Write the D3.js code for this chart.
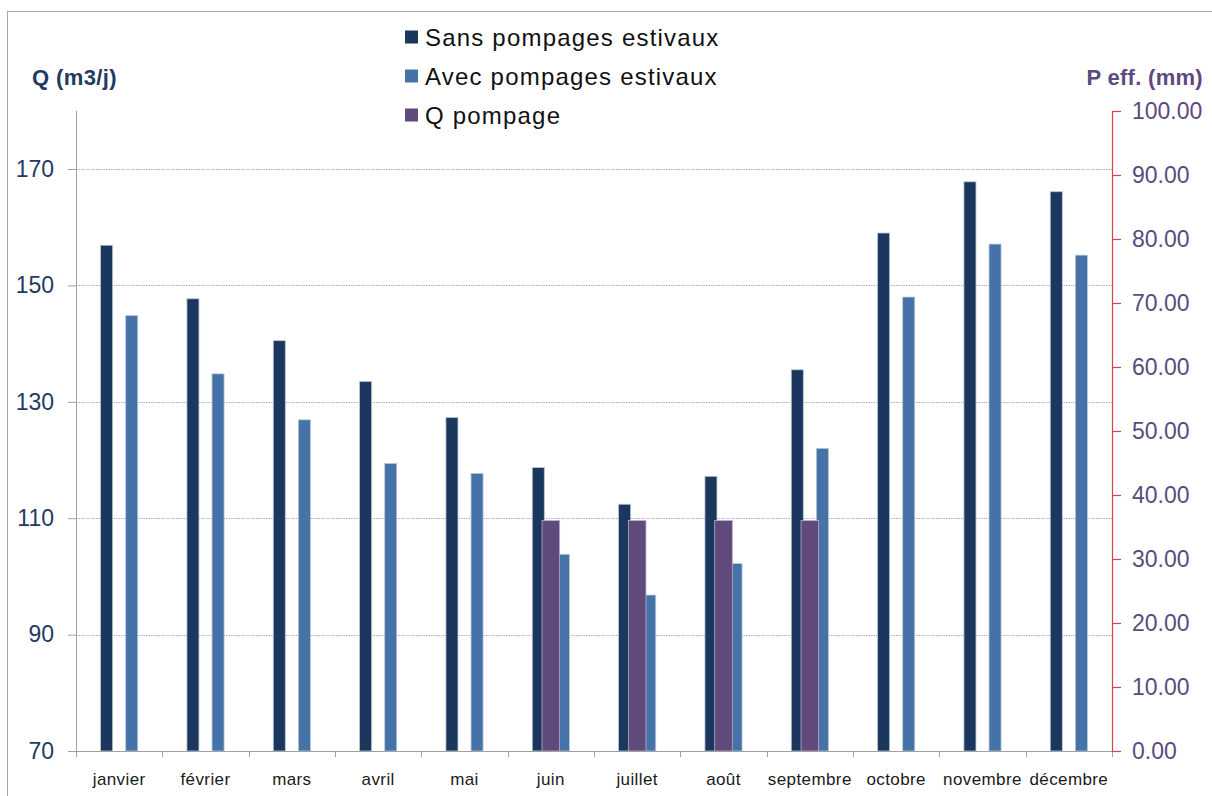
<!DOCTYPE html>
<html>
<head>
<meta charset="utf-8">
<script src="https://cdn.jsdelivr.net/npm/d3@7"></script>
<style>
  html, body { margin: 0; padding: 0; background: #fff; }
  svg { display: block; font-family: "Liberation Sans", Arial, sans-serif; }
</style>
</head>
<body>
<svg id="chart" width="1212" height="796"></svg>
<script>
// ---- data ----
const months = ["janvier","février","mars","avril","mai","juin","juillet","août","septembre","octobre","novembre","décembre"];
const sansPompages = [156.9, 147.7, 140.5, 133.5, 127.3, 118.7, 112.4, 117.2, 135.5, 159.0, 167.8, 166.1];
const avecPompages = [144.8, 134.8, 126.9, 119.4, 117.7, 103.8, 96.8, 102.2, 122.0, 148.0, 157.1, 155.2];
const qPompage     = [null, null, null, null, null, 36, 36, 36, 36, null, null, null];
const leftTicks  = [70, 90, 110, 130, 150, 170];
const rightTicks = [0, 10, 20, 30, 40, 50, 60, 70, 80, 90, 100];
const seriesNames = ["Sans pompages estivaux", "Avec pompages estivaux", "Q pompage"];
const seriesColors = ["#1b375e", "#4673a7", "#604a7b"];

// ---- layout ----
const svg = d3.select("#chart");
const L = 76, R = 1112, T = 110.8, B = 751;

const x = d3.scaleBand().domain(months).range([L, R]).padding(0);
const inner = d3.scaleBand().domain(["sans", "avec"]).range([0, x.bandwidth()])
  .paddingInner(0.52).paddingOuter(0.98);
const y = d3.scaleLinear().domain([70, 180]).range([B, T]);
const y2 = d3.scaleLinear().domain([0, 100]).range([B, 111]);

// outer frame
svg.append("rect").attr("x", 7.5).attr("y", 11.5).attr("width", 1210).attr("height", 800)
  .attr("fill", "none").attr("stroke", "#a6a6a6").attr("stroke-width", 1);

// gridlines
svg.append("g").selectAll("line").data(leftTicks.filter(d => d > 70)).join("line")
  .attr("x1", L).attr("x2", R)
  .attr("y1", d => Math.round(y(d)) + 0.5).attr("y2", d => Math.round(y(d)) + 0.5)
  .attr("stroke", "#b0b0b0").attr("stroke-width", 1).attr("stroke-dasharray", "1.5,1");

// primary bars
const rows = months.map((m, i) => ({ m, sans: sansPompages[i], avec: avecPompages[i], q: qPompage[i] }));
const g = svg.append("g");
[["sans", 0], ["avec", 1]].forEach(([key, ci]) => {
  g.selectAll("rect." + key).data(rows).join("rect")
    .attr("class", key)
    .attr("x", d => x(d.m) + inner(key))
    .attr("width", inner.bandwidth())
    .attr("y", d => y(d[key]))
    .attr("height", d => y(70) - y(d[key]))
    .attr("fill", seriesColors[ci])
    .attr("stroke", "#b9c7da").attr("stroke-width", 0.8);
});
// secondary bars (Q pompage)
const qw = x.bandwidth() * 0.204;
g.selectAll("rect.q").data(rows.filter(d => d.q != null)).join("rect")
  .attr("class", "q")
  .attr("x", d => x(d.m) + x.bandwidth() / 2 - qw / 2)
  .attr("width", qw)
  .attr("y", d => y2(d.q))
  .attr("height", d => y2(0) - y2(d.q))
  .attr("fill", seriesColors[2])
  .attr("stroke", "#b7aecb").attr("stroke-width", 0.8);

// left axis
const ax = svg.append("g").attr("transform", `translate(${L},0)`)
  .call(d3.axisLeft(y).tickValues(leftTicks).tickSize(8).tickPadding(14).tickFormat(d3.format("d")));
ax.select(".domain").attr("stroke", "#a0a0a0").attr("d", `M0.5,${T}V${B}`);
ax.selectAll(".tick line").attr("stroke", "#a0a0a0");
ax.selectAll(".tick text").attr("fill", "#1f3a63").attr("font-size", 23)
  .attr("font-family", "Liberation Sans, Arial, sans-serif");

// bottom axis
const bx = svg.append("g").attr("transform", `translate(0,${B})`);
bx.append("line").attr("x1", L - 8).attr("x2", R).attr("y1", 0.5).attr("y2", 0.5).attr("stroke", "#a0a0a0");
bx.selectAll("line.tk").data(months.concat(["end"])).join("line").attr("class", "tk")
  .attr("x1", (d, i) => Math.round(i < months.length ? x(d) : R) + 0.5)
  .attr("x2", (d, i) => Math.round(i < months.length ? x(d) : R) + 0.5)
  .attr("y1", 0).attr("y2", 6).attr("stroke", "#a0a0a0");
bx.selectAll("text").data(months).join("text")
  .attr("x", d => x(d) + x.bandwidth() / 2)
  .attr("y", 34)
  .attr("text-anchor", "middle")
  .attr("font-size", 17).attr("letter-spacing", 0.4).attr("fill", "#1a1a1a")
  .text(d => d);

// right axis
const ay = svg.append("g").attr("transform", `translate(${R},0)`)
  .call(d3.axisRight(y2).tickValues(rightTicks).tickSize(9).tickPadding(11).tickFormat(d3.format(".2f")));
ay.select(".domain").attr("stroke", "#d8444a").attr("stroke-width", 1.2).attr("d", `M0.5,111V${B}`);
ay.selectAll(".tick line").attr("stroke", "#d8444a").attr("stroke-width", 1.2);
ay.selectAll(".tick text").attr("fill", "#5b4a7e").attr("font-size", 23)
  .attr("font-family", "Liberation Sans, Arial, sans-serif");

// axis titles
svg.append("text").attr("x", 32).attr("y", 85).attr("font-size", 22).attr("font-weight", "bold")
  .attr("letter-spacing", 0.4).attr("fill", "#1f3a63").text("Q (m3/j)");
svg.append("text").attr("x", 1203).attr("y", 85).attr("text-anchor", "end").attr("font-size", 22)
  .attr("letter-spacing", 0.3).attr("font-weight", "bold").attr("fill", "#5b4a7e").text("P eff. (mm)");

// legend
const lg = svg.append("g");
seriesNames.forEach((name, i) => {
  const cy = 37 + i * 39;
  lg.append("rect").attr("x", 405).attr("y", cy - 6.5).attr("width", 13).attr("height", 13)
    .attr("fill", seriesColors[i]);
  lg.append("text").attr("x", 425).attr("y", cy + 8.5).attr("font-size", 24)
    .attr("letter-spacing", 1.2).attr("fill", "#111").text(name);
});
</script>
</body>
</html>
